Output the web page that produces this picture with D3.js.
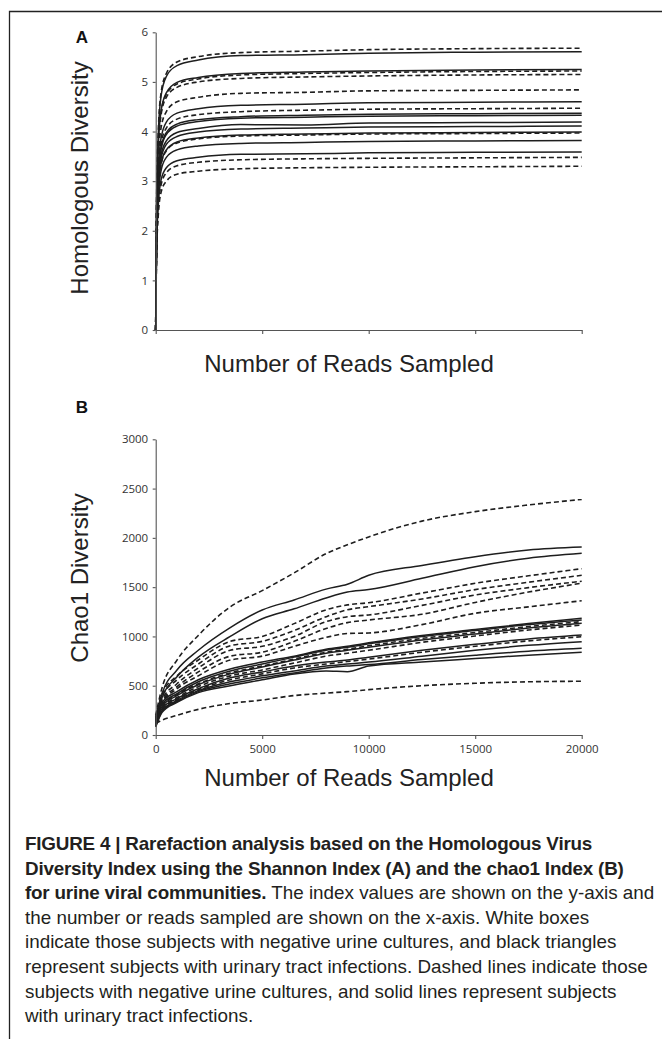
<!DOCTYPE html>
<html><head><meta charset="utf-8">
<script src="https://cdn.jsdelivr.net/npm/d3@7"></script>
<style>html,body{margin:0;padding:0;background:#fff;} svg{display:block;}</style>
</head><body><svg id="fig" width="662" height="1039"></svg>
<script>
// ---------- Panel A: Shannon (Homologous Diversity) ----------
const readsA = [0, 40, 120, 250, 500, 1000, 2000, 4000, 7000, 10000, 15000, 20000];
const shannonNegative = [
  [0, 2.56, 3.98, 4.77, 5.17, 5.40, 5.51, 5.59, 5.62, 5.65, 5.67, 5.68],
  [0, 2.35, 3.65, 4.38, 4.75, 4.96, 5.06, 5.14, 5.17, 5.19, 5.21, 5.22],
  [0, 2.32, 3.61, 4.33, 4.69, 4.89, 5.00, 5.07, 5.10, 5.12, 5.14, 5.15],
  [0, 2.18, 3.39, 4.07, 4.40, 4.60, 4.69, 4.77, 4.79, 4.82, 4.83, 4.84],
  [0, 2.01, 3.13, 3.75, 4.07, 4.25, 4.34, 4.40, 4.43, 4.45, 4.46, 4.47],
  [0, 1.79, 2.78, 3.33, 3.61, 3.77, 3.85, 3.91, 3.93, 3.95, 3.96, 3.97],
  [0, 1.57, 2.44, 2.92, 3.17, 3.31, 3.38, 3.43, 3.45, 3.46, 3.47, 3.48],
  [0, 1.49, 2.31, 2.77, 3.00, 3.14, 3.20, 3.25, 3.27, 3.28, 3.29, 3.30]
];
const shannonUTI = [
  [0, 2.52, 3.93, 4.71, 5.11, 5.33, 5.44, 5.53, 5.55, 5.58, 5.60, 5.61],
  [0, 2.36, 3.68, 4.41, 4.78, 4.99, 5.09, 5.17, 5.20, 5.22, 5.24, 5.25],
  [0, 2.07, 3.22, 3.86, 4.19, 4.37, 4.46, 4.53, 4.55, 4.58, 4.59, 4.60],
  [0, 1.97, 3.06, 3.67, 3.98, 4.15, 4.24, 4.30, 4.33, 4.35, 4.36, 4.37],
  [0, 1.95, 3.03, 3.64, 3.94, 4.11, 4.20, 4.27, 4.29, 4.31, 4.32, 4.33],
  [0, 1.89, 2.93, 3.52, 3.81, 3.98, 4.06, 4.14, 4.13, 4.17, 4.18, 4.19],
  [0, 1.85, 2.88, 3.45, 3.74, 3.90, 3.99, 4.05, 4.07, 4.09, 4.10, 4.11],
  [0, 1.80, 2.79, 3.35, 3.63, 3.79, 3.87, 3.93, 3.95, 3.97, 3.98, 3.99],
  [0, 1.72, 2.67, 3.21, 3.48, 3.63, 3.71, 3.76, 3.78, 3.80, 3.81, 3.82],
  [0, 1.62, 2.51, 3.02, 3.27, 3.41, 3.48, 3.54, 3.55, 3.57, 3.58, 3.59]
];
const shannonTicks = [0, 1, 2, 3, 4, 5, 6];

// ---------- Panel B: chao1 ----------
const readsB = [0, 300, 1000, 2000, 3500, 5000, 6500, 8000, 9000, 10000, 12500, 15000, 17500, 20000];
const chao1Negative = [
  [200, 480, 760, 1010, 1300, 1465, 1645, 1840, 1930, 2010, 2170, 2266, 2334, 2390],
  [180, 420, 600, 761, 950, 1000, 1130, 1270, 1320, 1342, 1440, 1539, 1615, 1687],
  [170, 390, 560, 720, 905, 950, 1060, 1200, 1270, 1302, 1380, 1475, 1550, 1620],
  [160, 360, 520, 680, 860, 900, 1000, 1150, 1200, 1218, 1315, 1420, 1495, 1560],
  [150, 340, 490, 640, 800, 840, 950, 1080, 1140, 1167, 1225, 1345, 1450, 1540],
  [140, 320, 470, 600, 760, 800, 900, 990, 1030, 1035, 1120, 1235, 1300, 1362],
  [150, 300, 410, 520, 630, 700, 770, 840, 870, 905, 980, 1040, 1100, 1150],
  [130, 280, 380, 490, 600, 660, 730, 800, 830, 860, 940, 1005, 1065, 1116],
  [110, 260, 360, 460, 560, 620, 680, 720, 745, 770, 840, 900, 955, 997],
  [120, 150, 200, 260, 320, 355, 400, 425, 440, 460, 500, 525, 540, 545]
];
const chao1UTI = [
  [150, 420, 660, 860, 1090, 1268, 1370, 1480, 1530, 1620, 1720, 1809, 1877, 1907],
  [140, 380, 590, 790, 1000, 1180, 1280, 1390, 1450, 1475, 1590, 1708, 1793, 1843],
  [180, 330, 440, 560, 670, 740, 800, 870, 900, 935, 1010, 1070, 1130, 1184],
  [160, 310, 420, 540, 650, 720, 790, 860, 890, 925, 1000, 1060, 1120, 1167],
  [140, 290, 400, 510, 620, 690, 760, 830, 860, 890, 965, 1025, 1085, 1133],
  [120, 270, 370, 470, 580, 640, 700, 740, 760, 790, 860, 920, 975, 1015],
  [100, 250, 350, 450, 540, 600, 650, 700, 720, 740, 800, 860, 910, 947],
  [90, 240, 340, 440, 520, 580, 630, 680, 700, 715, 765, 810, 850, 879],
  [80, 230, 330, 430, 500, 560, 620, 650, 642, 700, 740, 775, 810, 839]
];
const chao1Ticks = [0, 500, 1000, 1500, 2000, 2500, 3000];
const readTicks = [0, 5000, 10000, 15000, 20000];

// ---------- Text ----------
const panelLabels = ["A", "B"];
const yTitles = ["Homologous Diversity", "Chao1 Diversity"];
const xTitle = "Number of Reads Sampled";
const captionLines = [
  [["FIGURE 4 | Rarefaction analysis based on the Homologous Virus", true]],
  [["Diversity Index using the Shannon Index (A) and the chao1 Index (B)", true]],
  [["for urine viral communities.", true], [" The index values are shown on the y-axis and", false]],
  [["the number or reads sampled are shown on the x-axis. White boxes", false]],
  [["indicate those subjects with negative urine cultures, and black triangles", false]],
  [["represent subjects with urinary tract infections. Dashed lines indicate those", false]],
  [["subjects with negative urine cultures, and solid lines represent subjects", false]],
  [["with urinary tract infections.", false]]
];

const svg = d3.select('#fig');
const FONT = "'Liberation Sans', Arial, Helvetica, sans-serif";
const TICKFONT = "'Open Sans', 'Liberation Sans', sans-serif";
const INK = '#1e1e1e';

// outer frame (left and top edges visible)
svg.append('path').attr('d', 'M9.5,1039 V11.5 H662')
  .attr('fill', 'none').attr('stroke', '#222').attr('stroke-width', 1.3);

function drawPanel(cfg) {
  const x = d3.scaleLinear().domain([0, 20000]).range([155.7, 581.7]);
  const y = d3.scaleLinear().domain(cfg.yDomain).range([cfg.y0, cfg.yTop]);
  const g = svg.append('g');

  const line = d3.line()
    .x((d, i) => x(cfg.reads[i]))
    .y(d => y(d))
    .curve(d3.curveMonotoneX);

  g.selectAll('path.neg').data(cfg.negative).join('path')
    .attr('class', 'neg').attr('d', line).attr('fill', 'none')
    .attr('stroke', INK).attr('stroke-width', 1.6).attr('stroke-dasharray', '5,3');
  g.selectAll('path.uti').data(cfg.uti).join('path')
    .attr('class', 'uti').attr('d', line).attr('fill', 'none')
    .attr('stroke', INK).attr('stroke-width', 1.5);

  const ya = g.append('g').attr('transform', `translate(${x(0)},0)`)
    .call(d3.axisLeft(y).tickValues(cfg.yTicks).tickSize(3).tickPadding(4.5).tickSizeOuter(0)
      .tickFormat(d3.format('d')));
  const xa = g.append('g').attr('transform', `translate(0,${cfg.y0})`)
    .call(d3.axisBottom(x).tickValues(readTicks).tickSize(4).tickPadding(6).tickSizeOuter(0)
      .tickFormat(cfg.xLabels ? d3.format('d') : () => ''));
  [ya, xa].forEach(a => {
    a.select('.domain').attr('stroke', '#555').attr('stroke-width', 1.1);
    a.selectAll('.tick line').attr('stroke', '#555').attr('stroke-width', 1.1);
    a.selectAll('text').attr('font-family', TICKFONT).attr('font-size', 11.5).attr('fill', '#333');
  });

  svg.append('text').attr('x', 82).attr('y', cfg.labelY).attr('text-anchor', 'middle')
    .attr('font-family', FONT).attr('font-weight', 'bold').attr('font-size', 17).attr('fill', '#111')
    .text(cfg.label);
  svg.append('text').attr('transform', `translate(88,${cfg.yTitleY}) rotate(-90)`).attr('text-anchor', 'middle')
    .attr('font-family', FONT).attr('font-size', 24).attr('fill', '#222').text(cfg.yTitle);
  svg.append('text').attr('x', 349).attr('y', cfg.xTitleY).attr('text-anchor', 'middle')
    .attr('font-family', FONT).attr('font-size', 24).attr('fill', '#222').text(xTitle);
}

drawPanel({reads: readsA, negative: shannonNegative, uti: shannonUTI, yDomain: [0, 6], y0: 330, yTop: 32.3,
  yTicks: shannonTicks, xLabels: false, label: panelLabels[0], labelY: 43, yTitle: yTitles[0], yTitleY: 178, xTitleY: 372});
drawPanel({reads: readsB, negative: chao1Negative, uti: chao1UTI, yDomain: [0, 3000], y0: 735, yTop: 439.3,
  yTicks: chao1Ticks, xLabels: true, label: panelLabels[1], labelY: 413, yTitle: yTitles[1], yTitleY: 578, xTitleY: 786});

// caption
const cap = svg.append('g');
const capTexts = captionLines.map((parts, i) => {
  const t = cap.append('text').attr('x', 25).attr('y', 850 + i * 24.6)
    .attr('font-family', FONT).attr('font-size', 16).attr('fill', '#231f20');
  parts.forEach(([s, b]) => t.append('tspan').attr('font-weight', b ? 'bold' : 'normal')
    .attr('letter-spacing', b ? -0.2 : 0).text(s));
  return t;
});
// fit caption size to the widest regular line width in the reference (~623px)
const refLen = capTexts[5].node().getComputedTextLength();
const fs = 16 * 623 / refLen;
capTexts.forEach(t => t.attr('font-size', fs));
</script></body></html>
